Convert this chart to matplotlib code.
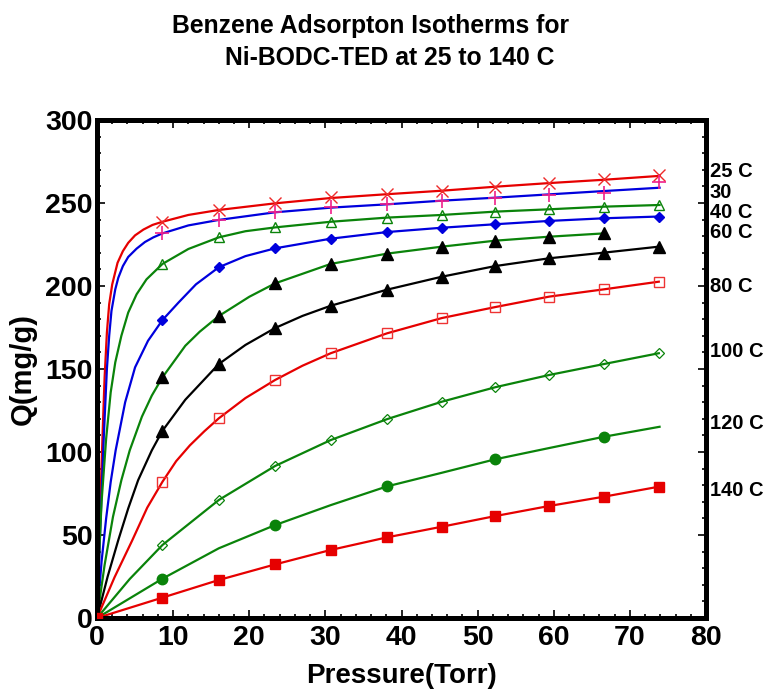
import matplotlib
matplotlib.use('Agg')
import matplotlib.pyplot as plt
from matplotlib.ticker import MultipleLocator
import matplotlib.transforms as mtransforms

plt.rcParams['font.family'] = ['Liberation Sans', 'DejaVu Sans']
plt.rcParams['font.weight'] = 'bold'

# ---------------- data ----------------
P = [8.6, 16.0, 23.4, 30.7, 38.1, 45.3, 52.3, 59.4, 66.6, 73.8]

q25 = [238.7, 245.8, 249.8, 253.4, 255.3, 257.4, 259.8, 262.2, 264.3, 266.7]
q30 = [231.7, 239.8, 244.4, 247.4, 249.6, 251.4, 252.8, 254.8, 255.8, 262.5]
q40 = [213.3, 229.3, 235.3, 238.7, 241.2, 242.8, 244.8, 246.2, 247.8, 248.8]
q60 = [179.5, 211.3, 222.7, 228.5, 232.5, 235.1, 237.2, 239.2, 240.8, 241.8]
P_g = [8.6, 16.0, 23.4, 30.7, 38.1, 45.3, 52.3, 59.4, 66.6]
q_g = [145.0, 181.9, 201.6, 213.3, 219.5, 223.7, 227.3, 229.7, 231.7]
P_k = [0.0, 8.6, 16.0, 23.4, 30.7, 38.1, 45.3, 52.3, 59.4, 66.6, 73.8]
q_k = [0.0, 112.8, 153.0, 174.7, 188.1, 197.8, 205.6, 212.0, 216.7, 220.1, 223.7]
q80 = [82.1, 120.3, 143.4, 159.5, 171.5, 180.7, 187.3, 193.6, 198.0, 202.6]
q100 = [44.0, 71.1, 91.6, 107.2, 119.8, 130.3, 139.0, 146.4, 153.0, 159.5]
P120 = [8.6, 23.4, 38.1, 52.3, 66.6]
q120 = [23.7, 56.0, 79.3, 95.6, 109.2]
P140 = [0.0, 8.6, 16.0, 23.4, 30.7, 38.1, 45.3, 52.3, 59.4, 66.6, 73.8]
q140 = [0.0, 12.3, 22.9, 32.3, 41.0, 48.6, 55.0, 61.4, 67.5, 73.1, 79.1]

# fitted curves
f25_P = [0, 0.5, 0.75, 1.0, 1.3, 1.6, 2.0, 2.7, 3.4, 4.1, 5.0, 6.1, 7.3, 8.6, 12.0, 16.0,
         23.4, 30.7, 38.1, 45.3, 52.3, 59.4, 66.6, 73.8]
f25_Q = [0, 78, 113, 145, 172, 189, 201, 214, 221, 226, 230.5, 234, 236.8, 238.7, 242.8, 245.8,
         249.8, 253.0, 255.3, 257.4, 259.8, 262.0, 264.0, 266.3]
f30_P = [0, 0.5, 0.9, 1.3, 1.6, 1.9, 2.4, 2.8, 3.4, 4.1, 5.2, 6.3, 7.4, 8.6, 12.0, 16.0,
         23.4, 30.7, 38.1, 45.3, 52.3, 59.4, 66.6, 73.9]
f30_Q = [0, 62, 110, 150, 170, 185, 198, 205, 212, 217.5, 222.5, 226.5, 229.3, 231.7, 236.5, 239.8,
         244.4, 247.2, 249.2, 251.4, 253.2, 255.2, 257.2, 259.2]
f40_P = [0, 0.3, 0.6, 1.2, 1.8, 2.4, 3.2, 4.1, 5.2, 6.5, 8.6, 12.0, 16.0, 19.5, 23.4,
         30.7, 38.1, 45.3, 52.3, 59.4, 66.6, 73.9]
f40_Q = [0, 40, 70, 108, 136, 154, 170, 184, 195, 204, 213.3, 222.3, 229.3, 233.0, 235.3,
         238.7, 241.2, 242.8, 244.8, 246.2, 247.8, 248.8]
f60_P = [0, 0.6, 1.2, 1.8, 2.45, 3.7, 5.0, 6.7, 8.6, 10.7, 13.0, 16.0, 19.5, 23.4,
         30.7, 38.1, 45.3, 52.3, 59.4, 66.6, 73.5]
f60_Q = [0, 34, 60, 82, 101, 130, 151, 167, 179.5, 190, 201, 211.3, 218, 222.7,
         228.5, 232.5, 235.1, 237.2, 239.2, 240.8, 241.8]
fg_P = [0, 1.0, 2.1, 3.2, 4.3, 5.9, 7.2, 8.6, 11.6, 13.5, 16.0, 20.0, 23.4,
        30.7, 38.1, 45.3, 52.3, 59.4, 66.6]
fg_Q = [0, 32, 61, 83, 101, 121.3, 134, 145, 164, 172.5, 181.9, 193.5, 201.6,
        213.3, 219.5, 223.7, 227.3, 229.7, 231.7]
fk_P = [0, 1.4, 2.8, 4.1, 5.4, 7.2, 8.6, 11.6, 16.0, 19.5, 23.4, 27.0, 30.7,
        38.1, 45.3, 52.3, 59.4, 66.6, 73.8]
fk_Q = [0, 25, 47, 66, 83, 101, 112.8, 131.5, 153.0, 164.5, 174.7, 182.0, 188.1,
        197.8, 205.6, 212.0, 216.7, 220.1, 223.7]
f80_P = [0, 2.3, 4.6, 6.6, 8.6, 10.4, 12.2, 14.1, 16.0, 19.5, 23.4, 27.0, 30.7,
         38.1, 45.3, 52.3, 59.4, 66.6, 73.8]
f80_Q = [0, 24.5, 46.5, 66.5, 82.1, 94.5, 104, 112.5, 120.3, 132.5, 143.4, 152, 159.5,
         171.5, 180.7, 187.3, 193.6, 198.0, 202.6]
f100_P = [0, 4.3, 8.6, 16.0, 23.4, 30.7, 38.1, 45.3, 52.3, 59.4, 66.6, 73.8]
f100_Q = [0, 23.5, 44.0, 71.1, 91.6, 107.2, 119.8, 130.3, 139.0, 146.4, 153.0, 159.5]
f120_P = [0, 8.6, 16.0, 23.4, 30.7, 38.1, 45.3, 52.3, 59.4, 66.6, 73.9]
f120_Q = [0, 23.7, 42.0, 56.0, 68.0, 79.3, 87.5, 95.6, 102.4, 109.2, 115.2]
f140_P = [0, 8.6, 16.0, 23.4, 30.7, 38.1, 45.3, 52.3, 59.4, 66.6, 73.8]
f140_Q = [0, 12.3, 22.9, 32.3, 41.0, 48.6, 55.0, 61.4, 67.5, 73.1, 79.1]

right_labels = ['25 C', '30', '40 C', '60 C', '80 C', '100 C', '120 C', '140 C']
right_label_q = [268.9, 256.2, 244.4, 232.4, 199.6, 160.4, 117.3, 77.1]

x_ticks = [0, 10, 20, 30, 40, 50, 60, 70, 80]
y_ticks = [0, 50, 100, 150, 200, 250, 300]

# ---------------- drawing ----------------
RED = '#e60000'
BLUE = '#0000dd'
GREEN = '#0a830a'
PINK = '#f0208a'

fig = plt.figure(figsize=(7.76, 6.92), dpi=100)
ax = fig.add_axes([0.125, 0.1069, 0.7848, 0.7197])

lw = 1.6
curves = [
    (f25_P, f25_Q, RED), (f30_P, f30_Q, BLUE), (f40_P, f40_Q, GREEN),
    (f60_P, f60_Q, BLUE), (fg_P, fg_Q, GREEN), (fk_P, fk_Q, 'black'),
    (f80_P, f80_Q, RED), (f100_P, f100_Q, GREEN), (f120_P, f120_Q, GREEN),
    (f140_P, f140_Q, RED),
]
for xs, ys, c in curves:
    ax.plot(xs, ys, color=c, lw=lw, solid_joinstyle='round', zorder=2)

ax.plot(P, q25, ls='none', marker='x', ms=8, mew=1.0, color='#ee2a2a', zorder=3)
ax.plot(P, q30, ls='none', marker='+', ms=10, mew=1.2, color=PINK, zorder=3)
ax.plot(P, q40, ls='none', marker='^', ms=7, mew=1.0, mfc='none', mec=GREEN, zorder=3)
ax.plot(P, q60, ls='none', marker='D', ms=5.5, color=BLUE, zorder=3)
ax.plot(P_g, q_g, ls='none', marker='^', ms=8, color='black', zorder=3)
ax.plot(P_k, q_k, ls='none', marker='^', ms=8, color='black', zorder=3)
ax.plot(P, q80, ls='none', marker='s', ms=7.5, mew=1.0, mfc='none', mec='#ee3333', zorder=3)
ax.plot(P, q100, ls='none', marker='D', ms=5.5, mew=0.9, mfc='none', mec=GREEN, zorder=3)
ax.plot(P120, q120, ls='none', marker='o', ms=7.5, color=GREEN, zorder=3)
ax.plot(P140, q140, ls='none', marker='s', ms=7, color=RED, zorder=3)

ax.set_xlim(0, 80)
ax.set_ylim(0, 300)
ax.set_xticks(x_ticks)
ax.set_yticks(y_ticks)
ax.xaxis.set_minor_locator(MultipleLocator(2))
ax.yaxis.set_minor_locator(MultipleLocator(10))
ax.tick_params(which='both', direction='in', top=True, right=True,
               labeltop=False, labelright=False, width=1.2, colors='black')
ax.tick_params(which='major', length=6, labelsize=20.5)
ax.tick_params(which='minor', length=3)
ax.tick_params(axis='x', which='major', pad=5)
ax.tick_params(axis='y', which='major', pad=3)
for lab in ax.get_xticklabels() + ax.get_yticklabels():
    lab.set_fontweight('bold')

for s in ax.spines.values():
    s.set_linewidth(3.6)
    s.set_color('black')

ax.set_xlabel('Pressure(Torr)', fontsize=20, fontweight='bold', labelpad=9)
ax.set_ylabel('Q(mg/g)', fontsize=21, fontweight='bold', labelpad=6)

trans = mtransforms.blended_transform_factory(ax.transAxes, ax.transData)
for txt, q in zip(right_labels, right_label_q):
    ax.text(1.006, q, txt, transform=trans, fontsize=14.5, fontweight='bold',
            ha='left', va='center', clip_on=False)

fig.text(0.477, 0.962, 'Benzene Adsorpton Isotherms for', ha='center', va='center',
         fontsize=17.8, fontweight='bold')
fig.text(0.502, 0.916, 'Ni-BODC-TED at 25 to 140 C', ha='center', va='center',
         fontsize=17.8, fontweight='bold')

fig.savefig('out.png', dpi=100)
